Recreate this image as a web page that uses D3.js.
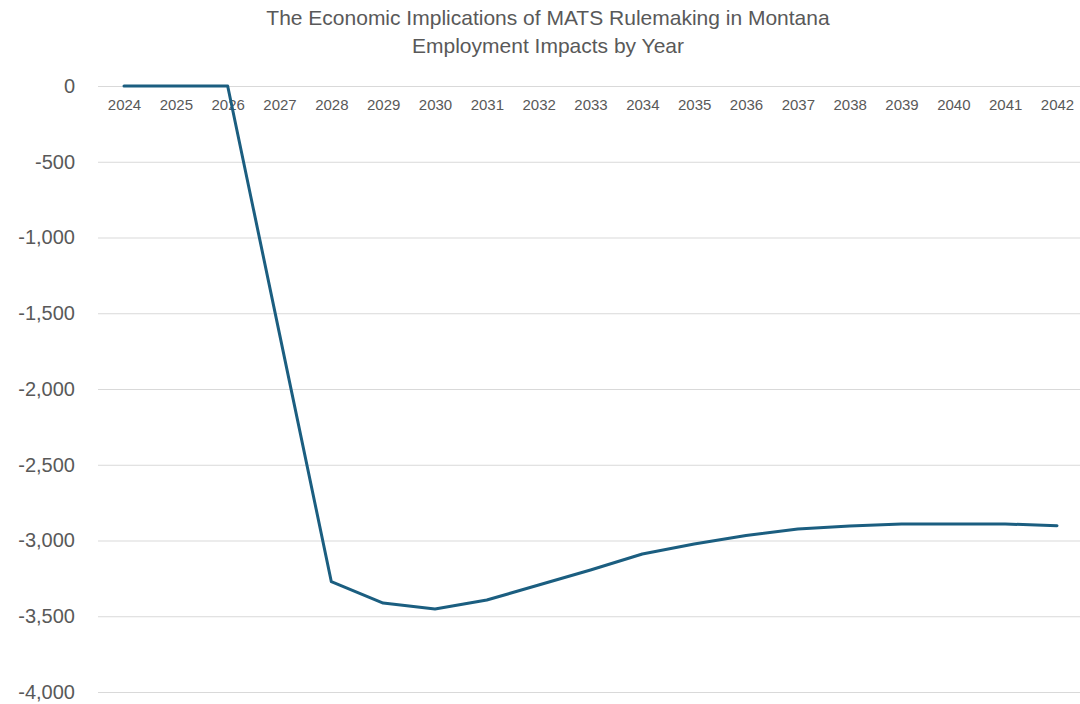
<!DOCTYPE html>
<html><head><meta charset="utf-8">
<script src="https://cdn.jsdelivr.net/npm/d3@7"></script>
<style>body{margin:0;background:#fff}svg{display:block}</style>
</head><body>
<script>
const years = ["2024","2025","2026","2027","2028","2029","2030","2031","2032","2033","2034","2035","2036","2037","2038","2039","2040","2041","2042"];
const employment = [0,0,0,-1636,-3272,-3413,-3452,-3393,-3294,-3195,-3089,-3023,-2967,-2924,-2904,-2891,-2891,-2891,-2902];
const yTicks = [0,-500,-1000,-1500,-2000,-2500,-3000,-3500,-4000];
const titleLines = ["The Economic Implications of MATS Rulemaking in Montana","Employment Impacts by Year"];

const W=1080,H=704;
const svg=d3.select("body").append("svg").attr("width",W).attr("height",H);
const x=d3.scalePoint().domain(years).range([124,1057]);
const y=d3.scaleLinear().domain([-4000,0]).range([692,86]);
const font="'Liberation Sans',Arial,sans-serif";
const fmt=d=>d3.format(",")(d).replace("\u2212","-");

svg.append("g").selectAll("text").data(titleLines).join("text")
 .attr("x",548).attr("y",(d,i)=>25+i*28).attr("text-anchor","middle")
 .attr("font-family",font).attr("font-size",21).attr("fill","#595959").text(d=>d);

const ya=svg.append("g").attr("transform","translate(98,0)")
 .call(d3.axisLeft(y).tickValues(yTicks).tickSize(-(W-98)).tickPadding(23).tickFormat(fmt));
ya.select(".domain").remove();
ya.selectAll(".tick line").attr("stroke","#d9d9d9").attr("stroke-width",1);
ya.selectAll(".tick text").attr("font-family",font).attr("font-size",20).attr("fill","#595959");

const xa=svg.append("g").attr("transform","translate(0,"+y(0)+")")
 .call(d3.axisBottom(x).tickSize(0).tickPadding(13));
xa.select(".domain").remove();
xa.selectAll(".tick text").attr("font-family",font).attr("font-size",15).attr("fill","#595959");

svg.append("path").datum(employment)
 .attr("fill","none").attr("stroke","#1b5e80").attr("stroke-width",3).attr("stroke-linejoin","round").attr("stroke-linecap","round")
 .attr("d",d3.line().x((d,i)=>x(years[i])).y(d=>y(d)));
</script>
</body></html>
